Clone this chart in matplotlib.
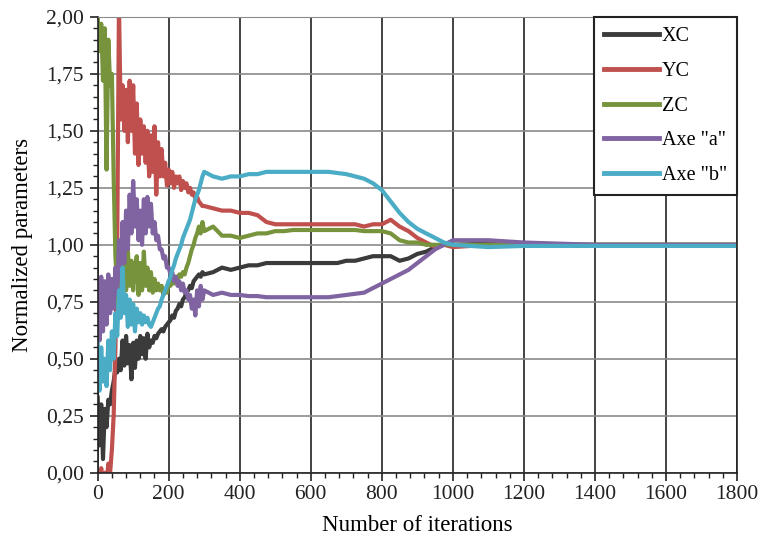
import matplotlib
matplotlib.use("Agg")
import matplotlib.pyplot as plt
from matplotlib.ticker import MultipleLocator, FuncFormatter

# iterations sampled: dense in the noisy start, sparse afterwards
iters = list(range(0, 300, 5)) + list(range(300, 1000, 25)) + list(range(1000, 1801, 100))

xc = [0.33, 0.12, 0.30, 0.06, 0.28, 0.20, 0.32, 0.30, 0.36, 0.40,
      0.46, 0.44, 0.50, 0.45, 0.58, 0.47, 0.60, 0.48, 0.56, 0.41,
      0.57, 0.46, 0.58, 0.50, 0.60, 0.52, 0.59, 0.50, 0.61, 0.55,
      0.58, 0.57, 0.60, 0.59, 0.61, 0.62, 0.63, 0.62, 0.64, 0.65,
      0.66, 0.67, 0.69, 0.68, 0.71, 0.72, 0.74, 0.73, 0.76, 0.77,
      0.79, 0.80, 0.82, 0.81, 0.84, 0.85, 0.86, 0.87, 0.86, 0.88,
      0.87, 0.88, 0.90, 0.89, 0.90, 0.91, 0.91, 0.92, 0.92, 0.92,
      0.92, 0.92, 0.92, 0.92, 0.92, 0.92, 0.93, 0.93, 0.94, 0.95,
      0.95, 0.95, 0.93, 0.94, 0.96, 0.97, 0.99, 1.00,
      1.00, 1.005, 1.00, 1.00, 1.00, 1.00, 1.00, 1.00, 1.00]

yc = [-0.05, -0.05, 0.02, -0.05, 0.00, -0.05, 0.04, 0.00, 0.10, 0.25,
      0.55, 1.00, 2.05, 1.55, 1.70, 1.50, 1.68, 1.45, 1.72, 1.50,
      1.70, 1.40, 1.62, 1.35, 1.55, 1.40, 1.52, 1.36, 1.50, 1.30,
      1.48, 1.32, 1.52, 1.22, 1.45, 1.30, 1.42, 1.30, 1.36, 1.26,
      1.33, 1.27, 1.32, 1.25, 1.30, 1.27, 1.30, 1.24, 1.28, 1.25,
      1.27, 1.23, 1.25, 1.22, 1.23, 1.20, 1.21, 1.19, 1.18, 1.17,
      1.17, 1.16, 1.15, 1.15, 1.14, 1.14, 1.13, 1.10, 1.09, 1.09,
      1.09, 1.09, 1.09, 1.09, 1.09, 1.09, 1.09, 1.09, 1.08, 1.09,
      1.09, 1.11, 1.08, 1.06, 1.03, 1.01, 0.99, 1.00,
      0.99, 1.00, 1.00, 1.00, 1.00, 1.00, 1.00, 1.00, 1.00]

zc = [2.00, 1.85, 1.97, 1.72, 1.95, 1.33, 1.90, 1.70, 1.75, 1.30,
      0.95, 0.80, 0.68, 0.85, 0.72, 0.95, 0.80, 0.98, 0.82, 0.93,
      0.80, 0.90, 0.95, 0.78, 0.92, 0.80, 0.97, 0.82, 0.90, 0.80,
      0.88, 0.79, 0.85, 0.80, 0.83, 0.80, 0.82, 0.78, 0.80, 0.79,
      0.84, 0.82, 0.85, 0.83, 0.86, 0.85, 0.87, 0.86, 0.88, 0.87,
      0.90, 0.92, 0.95, 0.98, 1.00, 1.03, 1.05, 1.08, 1.05, 1.10,
      1.06, 1.08, 1.04, 1.04, 1.03, 1.04, 1.05, 1.05, 1.06, 1.06,
      1.065, 1.065, 1.065, 1.065, 1.065, 1.065, 1.065, 1.065, 1.06, 1.06,
      1.06, 1.05, 1.02, 1.01, 1.01, 1.00, 1.00, 1.00,
      1.00, 1.00, 1.00, 1.00, 1.00, 1.00, 1.00, 1.00, 1.00]

axe_a = [0.85, 0.58, 0.86, 0.62, 0.84, 0.65, 0.87, 0.70, 0.85, 0.72,
         0.90, 0.78, 1.02, 0.85, 1.10, 0.92, 1.15, 0.98, 1.22, 1.05,
         1.28, 1.08, 1.20, 1.02, 1.15, 1.00, 1.20, 1.05, 1.21, 1.08,
         1.18, 1.05, 1.10, 1.02, 1.04, 0.98, 0.98, 0.94, 0.95, 0.90,
         0.90, 0.87, 0.88, 0.84, 0.86, 0.82, 0.84, 0.80, 0.83, 0.79,
         0.80, 0.76, 0.78, 0.72, 0.76, 0.69, 0.80, 0.73, 0.82, 0.76,
         0.80, 0.78, 0.79, 0.78, 0.78, 0.775, 0.775, 0.77, 0.77, 0.77,
         0.77, 0.77, 0.77, 0.77, 0.77, 0.775, 0.78, 0.785, 0.79, 0.81,
         0.83, 0.85, 0.87, 0.89, 0.92, 0.95, 0.98, 1.00,
         1.02, 1.02, 1.01, 1.005, 1.00, 1.00, 1.00, 1.00, 1.00]

axe_b = [0.57, 0.36, 0.55, 0.40, 0.50, 0.38, 0.58, 0.45, 0.62, 0.50,
         0.70, 0.60, 0.80, 0.68, 0.90, 0.70, 0.78, 0.64, 0.76, 0.65,
         0.74, 0.62, 0.72, 0.66, 0.70, 0.65, 0.69, 0.66, 0.68, 0.65,
         0.64, 0.66, 0.68, 0.70, 0.72, 0.73, 0.76, 0.78, 0.80, 0.82,
         0.84, 0.86, 0.89, 0.91, 0.94, 0.96, 0.98, 1.00, 1.03, 1.05,
         1.07, 1.09, 1.11, 1.14, 1.17, 1.20, 1.22, 1.24, 1.27, 1.30,
         1.32, 1.30, 1.29, 1.30, 1.30, 1.31, 1.31, 1.32, 1.32, 1.32,
         1.32, 1.32, 1.32, 1.32, 1.32, 1.315, 1.31, 1.30, 1.29, 1.27,
         1.24, 1.19, 1.14, 1.10, 1.07, 1.05, 1.03, 1.01,
         1.00, 0.99, 0.995, 0.995, 0.995, 0.995, 0.995, 0.995, 0.995]

series = [("XC", xc, "#3b3b3b"),
          ("YC", yc, "#c0504d"),
          ("ZC", zc, "#77933c"),
          ('Axe "a"', axe_a, "#8064a2"),
          ('Axe "b"', axe_b, "#4bacc6")]

plt.rcParams['font.family'] = ['Liberation Serif', 'DejaVu Serif']

fig = plt.figure(figsize=(7.63, 5.44), dpi=100)
ax = fig.add_axes([0.128, 0.131, 0.838, 0.838])

for name, vals, col in series:
    ax.plot(iters, vals, color=col, lw=3, label=name)

ax.set_xlim(0, 1800)
ax.set_ylim(0, 2.0)
ax.xaxis.set_major_locator(MultipleLocator(200))
ax.xaxis.set_minor_locator(MultipleLocator(40))
ax.yaxis.set_major_locator(MultipleLocator(0.25))
ax.yaxis.set_minor_locator(MultipleLocator(0.05))
ax.yaxis.set_major_formatter(FuncFormatter(lambda v, p: f"{v:.2f}".replace(".", ",")))

ax.tick_params(which='major', direction='out', length=6, width=1.2, labelsize=15.5, colors='#222222')
ax.tick_params(which='minor', direction='out', length=3.5, width=1.0, colors='#222222')
ax.tick_params(axis='x', pad=3)
ax.tick_params(axis='y', pad=4)

ax.grid(axis='x', which='major', color='#222222', lw=1.2)
ax.grid(axis='y', which='major', color='#8a8a8a', lw=1.2)
ax.set_axisbelow(True)
for s in ['left', 'bottom', 'right']:
    ax.spines[s].set_color('#222222')
    ax.spines[s].set_linewidth(1.2)
ax.spines['top'].set_color('#8a8a8a')

ax.set_xlabel("Number of iterations", fontsize=16.5, labelpad=8)
ax.set_ylabel("Normalized parameters", fontsize=16.5, labelpad=9)

leg = ax.legend(loc='upper right', borderaxespad=0, fancybox=False,
                edgecolor='#222222', fontsize=14.5, handlelength=2.7,
                labelspacing=0.78, borderpad=0.5, handletextpad=0.15,
                framealpha=1)
leg.get_frame().set_linewidth(1.5)
for h in leg.get_lines():
    h.set_linewidth(3.5)

fig.savefig("out.png", dpi=100)
